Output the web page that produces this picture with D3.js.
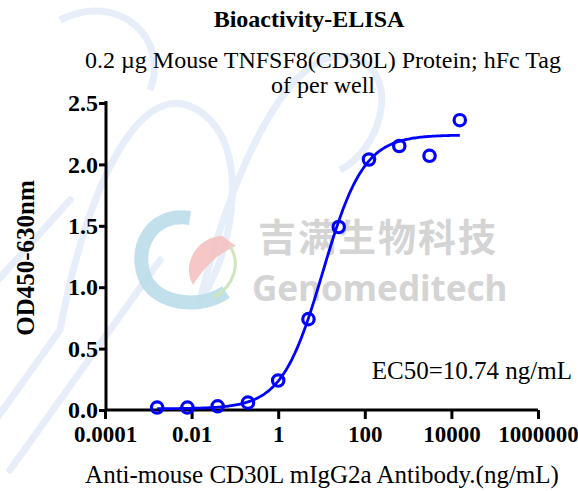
<!DOCTYPE html>
<html><head><meta charset="utf-8">
<script src="https://cdn.jsdelivr.net/npm/d3@7"></script>
<style>html,body{margin:0;padding:0;background:#fff;}svg{display:block;}</style>
</head><body>
<script>
// ---- data ----
const concentrations = [0.0016, 0.008, 0.04, 0.2, 1, 5, 25, 125, 625, 3125, 15625];
const odValues = [0.02, 0.02, 0.03, 0.06, 0.24, 0.74, 1.49, 2.04, 2.15, 2.07, 2.36];
const xTicks = [0.0001, 0.01, 1, 100, 10000, 1000000];
const xTickLabels = ["0.0001", "0.01", "1", "100", "10000", "1000000"];
const yTicks = [0, 0.5, 1.0, 1.5, 2.0, 2.5];
const yTickLabels = ["0.0", "0.5", "1.0", "1.5", "2.0", "2.5"];
// 4PL fit: bottom, top, EC50, hill slope
const fitBottom = 0.01, fitTop = 2.24, fitEC50 = 10.74, fitHill = 0.92;
const titleText = "Bioactivity-ELISA";
const subtitleLines = ["0.2 \u00b5g Mouse TNFSF8(CD30L) Protein; hFc Tag", "of per well"];
const xLabel = "Anti-mouse CD30L mIgG2a Antibody.(ng/mL)";
const yLabel = "OD450-630nm";
const ec50Text = "EC50=10.74 ng/mL";

const W = 578, H = 491;
const blue = "#0000ff";
const serif = "'Liberation Serif','Times New Roman',serif";

const svg = d3.select("body").append("svg").attr("width", W).attr("height", H);

// ---- watermark (background decoration) ----
const wm = svg.append("g");
const strokeCol = "#e8eef9";
[[ -40, 470, 60, 330], [-20, 300, 70, 200], [10, 470, 160, 260]].forEach(d => {
  wm.append("line").attr("x1", d[0]).attr("y1", d[1]).attr("x2", d[2]).attr("y2", d[3])
    .attr("stroke", strokeCol).attr("stroke-width", 7).attr("stroke-linecap", "round");
});
wm.append("path").attr("d", "M60,330 C90,170 150,60 210,120 C250,160 230,260 200,300")
  .attr("fill", "none").attr("stroke", strokeCol).attr("stroke-width", 7);
wm.append("path").attr("d", "M200,300 C230,180 290,30 360,60 C400,80 380,150 340,170")
  .attr("fill", "none").attr("stroke", strokeCol).attr("stroke-width", 7);
wm.append("path").attr("d", "M60,20 C120,-10 170,40 150,90")
  .attr("fill", "none").attr("stroke", strokeCol).attr("stroke-width", 7);
// logo
wm.append("path").attr("d", "M190,218 C150,212 132,250 146,280 C158,304 200,310 226,292")
  .attr("fill", "none").attr("stroke", "#b6dbe9").attr("stroke-width", 14).attr("opacity", 0.85);
wm.append("path").attr("d", "M222,236 C200,236 180,262 193,285 C203,270 214,255 236,246 Z")
  .attr("fill", "#f3bdbd").attr("opacity", 0.85);
wm.append("path").attr("d", "M230,246 C240,262 236,285 214,297")
  .attr("fill", "none").attr("stroke", "#cde6bd").attr("stroke-width", 3);
wm.append("text").attr("x", 258).attr("y", 251).attr("font-family", "'Noto Sans CJK SC',sans-serif")
  .attr("font-weight", "bold").attr("font-size", 38).attr("fill", "#d4d4d4").attr("letter-spacing", 2).text("吉满生物科技");
wm.append("text").attr("x", 252).attr("y", 301).attr("font-family", "'Noto Sans',sans-serif")
  .attr("font-weight", "bold").attr("font-size", 35).attr("fill", "#d4d4d4").text("Genomeditech");

// ---- scales ----
const x = d3.scaleLog().domain([0.0001, 1000000]).range([105, 538]);
const y = d3.scaleLinear().domain([0, 2.5]).range([410, 103]);

// ---- axes ----
const xAxis = d3.axisBottom(x).tickValues(xTicks).tickFormat((d, i) => xTickLabels[i]).tickSizeOuter(0).tickSize(9).tickPadding(7);
const gx = svg.append("g").attr("transform", "translate(0,410)").call(xAxis);
gx.select(".domain").attr("stroke", "#000").attr("stroke-width", 3).attr("d", "M105,0H538");
gx.selectAll(".tick line").attr("stroke", "#000").attr("stroke-width", 3);
gx.selectAll(".tick text").attr("font-family", serif).attr("font-weight", "bold").attr("font-size", 23).attr("fill", "#000");

const yAxis = d3.axisLeft(y).tickValues(yTicks).tickFormat((d, i) => yTickLabels[i]).tickSizeOuter(0).tickSize(7).tickPadding(1);
const gy = svg.append("g").attr("transform", "translate(106,0)").call(yAxis);
gy.select(".domain").attr("stroke", "#000").attr("stroke-width", 3).attr("d", "M0,101V411");
gy.selectAll(".tick line").attr("stroke", "#000").attr("stroke-width", 3);
gy.selectAll(".tick text").attr("font-family", serif).attr("font-weight", "bold").attr("font-size", 24).attr("fill", "#000");

// ---- fit curve ----
const lx0 = Math.log10(d3.min(concentrations)), lx1 = Math.log10(d3.max(concentrations));
const curvePts = d3.range(0, 201).map(i => {
  const c = Math.pow(10, lx0 + (lx1 - lx0) * i / 200);
  return [c, fitBottom + (fitTop - fitBottom) / (1 + Math.pow(fitEC50 / c, fitHill))];
});
svg.append("path").datum(curvePts)
  .attr("d", d3.line().x(d => x(d[0])).y(d => y(d[1])))
  .attr("fill", "none").attr("stroke", blue).attr("stroke-width", 2.8);

// ---- points ----
svg.append("g").selectAll("circle").data(concentrations).join("circle")
  .attr("cx", d => x(d)).attr("cy", (d, i) => y(odValues[i])).attr("r", 5.7)
  .attr("fill", "none").attr("stroke", blue).attr("stroke-width", 3.2);

// ---- texts ----
svg.append("text").attr("x", 309).attr("y", 27).attr("text-anchor", "middle")
  .attr("font-family", serif).attr("font-weight", "bold").attr("font-size", 24).text(titleText);
subtitleLines.forEach((t, i) => {
  svg.append("text").attr("x", 323).attr("y", 68 + i * 25).attr("text-anchor", "middle")
    .attr("font-family", serif).attr("font-size", 24).text(t);
});
svg.append("text").attr("x", 322).attr("y", 483).attr("text-anchor", "middle")
  .attr("font-family", serif).attr("font-size", 25).text(xLabel);
svg.append("text").attr("transform", "translate(34,258) rotate(-90)").attr("text-anchor", "middle")
  .attr("font-family", serif).attr("font-weight", "bold").attr("font-size", 25).text(yLabel);
svg.append("text").attr("x", 572).attr("y", 379).attr("text-anchor", "end")
  .attr("font-family", serif).attr("font-size", 25).text(ec50Text);
</script>
</body></html>
